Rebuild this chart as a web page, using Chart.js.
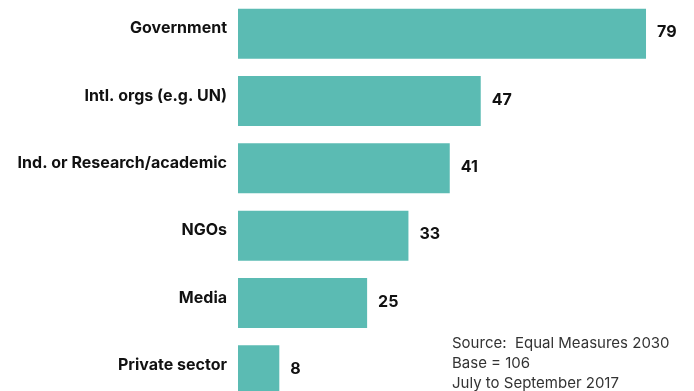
<!DOCTYPE html>
<html>
<head>
<meta charset="utf-8">
<script src="https://cdn.jsdelivr.net/npm/chart.js@4"></script>
<style>
  html, body { margin: 0; padding: 0; background: #fff; overflow: hidden; }
  #wrap { position: relative; width: 694px; height: 391px; overflow: hidden; }
  #chart { position: absolute; left: 0; top: 0; }
  #note {
    position: absolute; left: 452px; top: 333px;
    font: 15px Inter, "Noto Sans", sans-serif; line-height: 20px;
    color: #333; white-space: nowrap;
  }
</style>
</head>
<body>
<div id="wrap">
  <canvas id="chart" width="694" height="404"></canvas>
  <div id="note">Source:&nbsp; Equal Measures 2030<br>Base = 106<br>July to September 2017</div>
</div>
<script>
const categories = ['Government', 'Intl. orgs (e.g. UN)', 'Ind. or Research/academic', 'NGOs', 'Media', 'Private sector'];
const counts = [79, 47, 41, 33, 25, 8];

const barColor = '#5bbbb3';

// writes each count just past the end of its bar
const valueLabels = {
  id: 'valueLabels',
  afterDatasetsDraw(chart) {
    const ctx = chart.ctx;
    const meta = chart.getDatasetMeta(0);
    ctx.save();
    ctx.font = 'bold 16px Inter, "Noto Sans", sans-serif';
    ctx.fillStyle = '#111';
    ctx.textAlign = 'left';
    ctx.textBaseline = 'middle';
    meta.data.forEach((bar, i) => {
      ctx.fillText(String(counts[i]), bar.x + 11, bar.y - 1);
    });
    ctx.restore();
  }
};

new Chart(document.getElementById('chart').getContext('2d'), {
  type: 'bar',
  data: {
    labels: categories,
    datasets: [{
      data: counts,
      backgroundColor: barColor,
      borderWidth: 0,
      barPercentage: 0.743,
      categoryPercentage: 1
    }]
  },
  options: {
    indexAxis: 'y',
    responsive: false,
    animation: false,
    layout: { padding: { left: 0, right: 17, top: 0, bottom: 0 } },
    plugins: {
      legend: { display: false },
      tooltip: { enabled: false }
    },
    scales: {
      x: {
        display: false,
        min: 0,
        max: 85
      },
      y: {
        grid: { display: false, drawTicks: false },
        border: { display: false },
        ticks: {
          color: '#111',
          padding: 11,
          labelOffset: -5,
          font: { family: 'Inter, "Noto Sans", sans-serif', size: 16, weight: 'bold' }
        },
        afterFit(scale) {
          // fixed label column, and no extra room above/below the bands
          scale.width = 238;
          scale.paddingTop = 0;
          scale.paddingBottom = 0;
        }
      }
    }
  },
  plugins: [valueLabels]
});
</script>
</body>
</html>
